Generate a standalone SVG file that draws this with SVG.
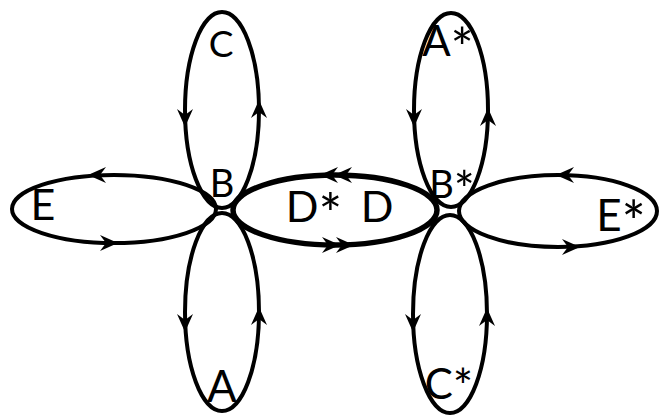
<svg xmlns="http://www.w3.org/2000/svg" xmlns:xlink="http://www.w3.org/1999/xlink" width="659" height="415" viewBox="0 0 659 415">
<style>
.loop{fill:none;stroke:#000;stroke-width:4}
.thick{stroke-width:5.5}
.lbl{font-family:Lato,"Open Sans","Liberation Sans",sans-serif;fill:#000;text-anchor:middle}
.ast{font-size:1.3em}
</style>
<defs>
<path id="ah" d="M0,0 L-18,-8 L-12,0 L-18,8 Z" fill="#000"/>
</defs>
<rect width="659" height="415" fill="#fff"/>
<g id="connectors">
<ellipse id="loopC" class="loop" cx="222" cy="110" rx="37" ry="98"/>
<ellipse id="loopA" class="loop" cx="222" cy="312" rx="37" ry="99"/>
<ellipse id="loopE" class="loop" cx="114" cy="209" rx="102" ry="34"/>
<ellipse id="loopD" class="loop thick" cx="335" cy="210" rx="102" ry="35"/>
<ellipse id="loopAs" class="loop" cx="451" cy="110" rx="37" ry="97"/>
<ellipse id="loopCs" class="loop" cx="450" cy="314" rx="37" ry="99"/>
<ellipse id="loopEs" class="loop" cx="558" cy="211" rx="99" ry="36"/>
<use xlink:href="#ah" transform="translate(185,127) rotate(90)"/>
<use xlink:href="#ah" transform="translate(259,100) rotate(-90)"/>
<use xlink:href="#ah" transform="translate(185,332) rotate(90)"/>
<use xlink:href="#ah" transform="translate(259,307) rotate(-90)"/>
<use xlink:href="#ah" transform="translate(88,175) rotate(180)"/>
<use xlink:href="#ah" transform="translate(118,243)"/>
<use xlink:href="#ah" transform="translate(320,175) rotate(180)"/>
<use xlink:href="#ah" transform="translate(334,175) rotate(180)"/>
<use xlink:href="#ah" transform="translate(340,245)"/>
<use xlink:href="#ah" transform="translate(354,245)"/>
<use xlink:href="#ah" transform="translate(414,127) rotate(90)"/>
<use xlink:href="#ah" transform="translate(488,108) rotate(-90)"/>
<use xlink:href="#ah" transform="translate(556,175) rotate(180)"/>
<use xlink:href="#ah" transform="translate(580,247)"/>
<use xlink:href="#ah" transform="translate(413,332) rotate(90)"/>
<use xlink:href="#ah" transform="translate(487,308) rotate(-90)"/>
</g>
<g id="node-C"><text class="lbl" x="221" y="57" font-size="37">C</text></g>
<g id="node-B"><text class="lbl" x="222" y="197" font-size="38">B</text></g>
<g id="node-A"><text class="lbl" x="222" y="402" font-size="44">A</text></g>
<g id="node-E"><text class="lbl" x="43" y="220" font-size="43">E</text></g>
<g id="node-Ds"><text class="lbl" x="314" y="222" font-size="43">D<tspan class="ast" dy="12">*</tspan></text></g>
<g id="node-D"><text class="lbl" x="377" y="222" font-size="43">D</text></g>
<g id="node-As"><text class="lbl" x="448" y="56" font-size="42">A<tspan class="ast" dy="11">*</tspan></text></g>
<g id="node-Bs"><text class="lbl" x="452" y="198" font-size="38">B<tspan class="ast" dy="10">*</tspan></text></g>
<g id="node-Es"><text class="lbl" x="621" y="231" font-size="44">E<tspan class="ast" dy="12">*</tspan></text></g>
<g id="node-Cs"><text class="lbl" x="449" y="399" font-size="42">C<tspan font-size="48" dy="5">*</tspan></text></g>
</svg>
